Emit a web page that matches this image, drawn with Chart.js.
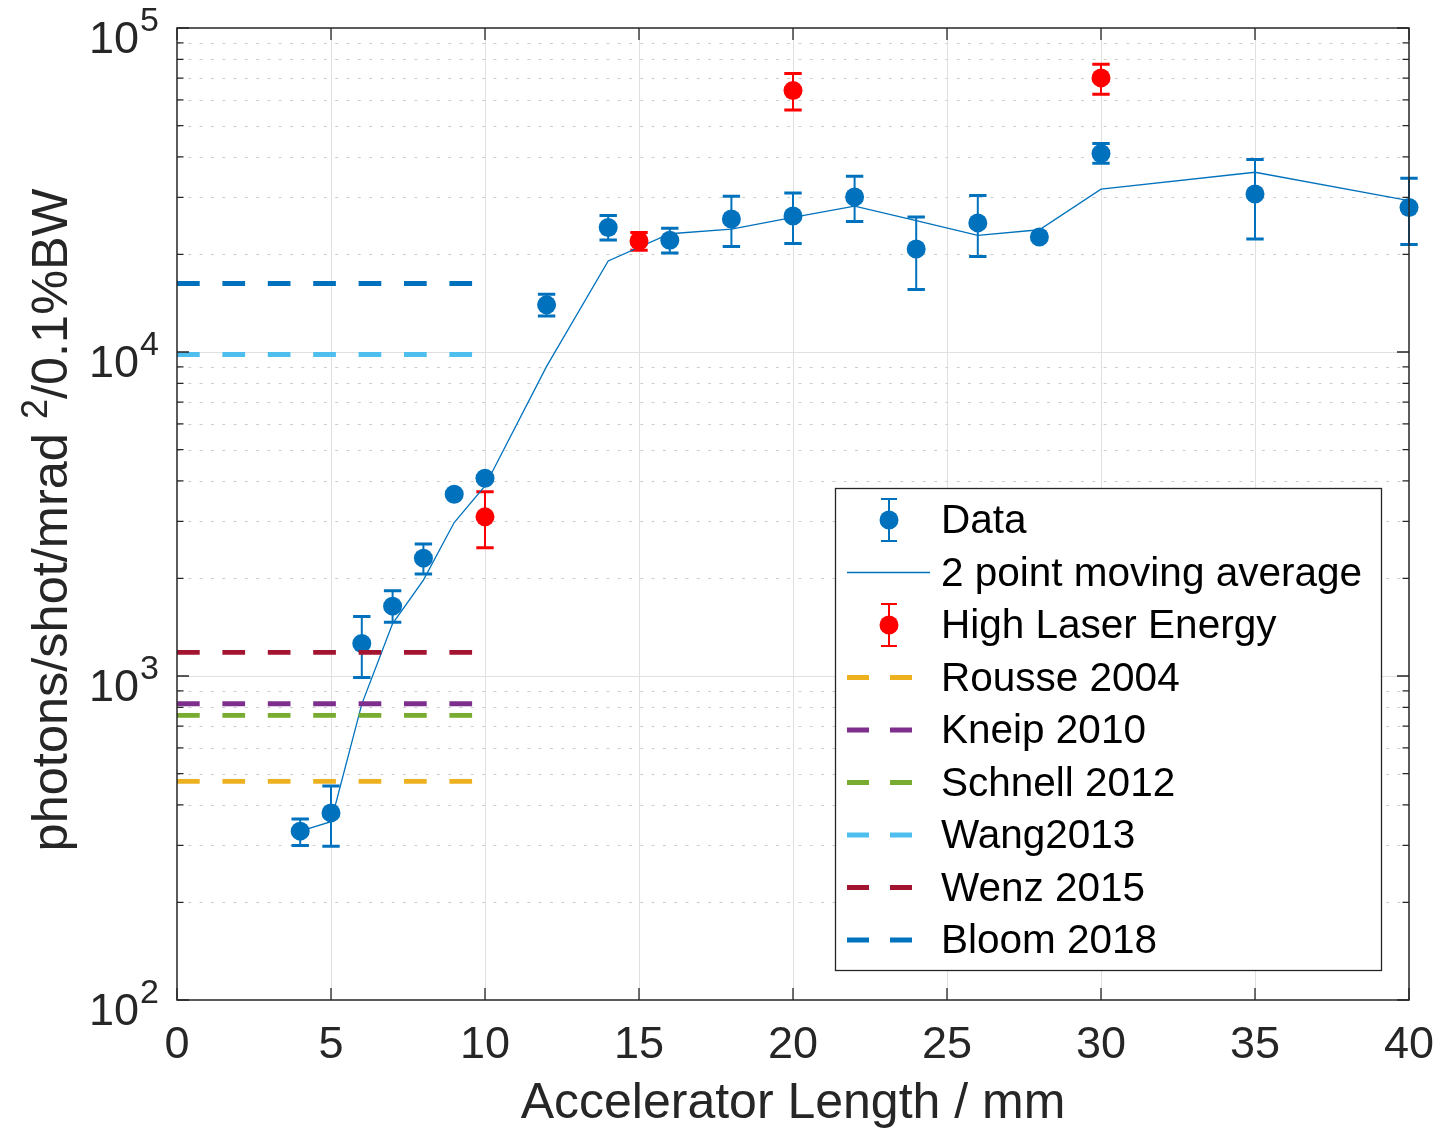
<!DOCTYPE html>
<html>
<head>
<meta charset="utf-8">
<title>Photon yield vs accelerator length</title>
<script src="https://cdn.jsdelivr.net/npm/chart.js@4.4.1/dist/chart.umd.min.js"></script>
<style>
  html, body { margin: 0; padding: 0; background: #fff; }
  #wrap { width: 1439px; height: 1131px; }
</style>
</head>
<body>
<div id="wrap"><canvas id="chart" width="1439" height="1131"></canvas></div>
<script>
const FONT = '"Liberation Sans", Arial, Helvetica, sans-serif';
const AXIS_COLOR = '#262626';
const BLUE = '#0072BD';
const RED = '#FF0000';

// measured series (photons/shot/mrad^2/0.1%BW)
const lengths = [4, 5, 6, 7, 8, 9, 10, 12, 14, 16, 18, 20, 22, 24, 26, 28, 30, 35, 40];
const yieldData = [332, 378, 1260, 1643, 2311, 3641, 4079, 13980, 24220, 22130, 25750, 26300, 30100, 20800, 25030, 22650, 40990, 30750, 27920];
const yieldLow = [300, 298, 990, 1464, 2063, null, null, 12925, 22180, 20220, 21160, 21610, 25280, 15590, 19710, null, 38230, 22340, 21460];
const yieldHigh = [362, 458, 1527, 1832, 2553, null, null, 15080, 26380, 24100, 30250, 30970, 34860, 26110, 30400, null, 43980, 39260, 34380];
const movingAvg = [332, 355, 819, 1452, 1977, 2976, 3860, 9030, 19100, 23175, 23940, 26025, 28200, 25450, 22915, 23840, 31820, 35870, 29335];

const highLengths = [10, 15, 20, 30];
const highData = [3099, 22020, 64120, 70140];
const highLow = [2486, 20610, 55850, 62440];
const highHigh = [3702, 23370, 72340, 77270];

// published results, drawn from 0 to 10 mm
const refNames = ['Rousse 2004', 'Kneip 2010', 'Schnell 2012', 'Wang2013', 'Wenz 2015', 'Bloom 2018'];
const refValues = [473, 821, 756, 9825, 1183, 16270];
const refColors = ['#EDB120', '#7E2F8E', '#77AC30', '#4DBEEE', '#A2142F', '#0072BD'];
const refRange = [0, 10];

const xTicks = [0, 5, 10, 15, 20, 25, 30, 35, 40];
const yMajorTicks = [1e2, 1e3, 1e4, 1e5];
const yMinorFactors = [2, 3, 4, 5, 6, 7, 8, 9];
const xTitle = 'Accelerator Length / mm';

function toPoints(xs, ys) {
    return xs.map((x, i) => ({ x: x, y: ys[i] }));
}

function drawErrorBars(ctx, chart, ds) {
    const x = chart.scales.x, y = chart.scales.y;
    ctx.strokeStyle = ds.borderColor;
    ds.data.forEach((p, i) => {
        const lo = ds.errLow[i], hi = ds.errHigh[i];
        if (lo == null || hi == null) return;
        const px = x.getPixelForValue(p.x);
        const pLo = y.getPixelForValue(lo), pHi = y.getPixelForValue(hi);
        ctx.lineWidth = 2;
        ctx.beginPath();
        ctx.moveTo(px, pLo); ctx.lineTo(px, pHi);
        ctx.stroke();
        ctx.lineWidth = 3;
        ctx.beginPath();
        ctx.moveTo(px - 8.7, pLo); ctx.lineTo(px + 8.7, pLo);
        ctx.moveTo(px - 8.7, pHi); ctx.lineTo(px + 8.7, pHi);
        ctx.stroke();
    });
}

const axesPlugin = {
    id: 'matlabAxes',
    beforeDatasetsDraw(chart) {
        const { ctx, chartArea: a, scales: { x, y } } = chart;
        ctx.save();
        // minor grid, dotted
        ctx.lineWidth = 1;
        ctx.strokeStyle = '#cdcdcd';
        ctx.setLineDash([3, 8.3]);
        yMajorTicks.slice(0, -1).forEach(d => {
            yMinorFactors.forEach(f => {
                const py = Math.round(y.getPixelForValue(d * f)) + 0.5;
                ctx.beginPath(); ctx.moveTo(a.left, py); ctx.lineTo(a.right, py); ctx.stroke();
            });
        });
        // major grid
        ctx.setLineDash([]);
        ctx.strokeStyle = '#e0e0e0';
        xTicks.slice(1, -1).forEach(v => {
            const px = Math.round(x.getPixelForValue(v)) + 0.5;
            ctx.beginPath(); ctx.moveTo(px, a.top); ctx.lineTo(px, a.bottom); ctx.stroke();
        });
        yMajorTicks.slice(1, -1).forEach(v => {
            const py = Math.round(y.getPixelForValue(v)) + 0.5;
            ctx.beginPath(); ctx.moveTo(a.left, py); ctx.lineTo(a.right, py); ctx.stroke();
        });
        // error bars go under the markers
        chart.data.datasets.forEach(ds => {
            if (ds.errLow) drawErrorBars(ctx, chart, ds);
        });
        ctx.restore();
    },
    afterDatasetsDraw(chart) {
        const { ctx, chartArea: a, scales: { x, y } } = chart;
        ctx.save();
        ctx.strokeStyle = AXIS_COLOR;
        ctx.lineWidth = 1.5;
        ctx.strokeRect(a.left, a.top, a.right - a.left, a.bottom - a.top);
        ctx.lineWidth = 1.3;
        ctx.beginPath();
        xTicks.forEach(v => {
            const px = x.getPixelForValue(v);
            ctx.moveTo(px, a.bottom); ctx.lineTo(px, a.bottom - 12);
            ctx.moveTo(px, a.top); ctx.lineTo(px, a.top + 12);
        });
        yMajorTicks.forEach((d, k) => {
            const py = y.getPixelForValue(d);
            ctx.moveTo(a.left, py); ctx.lineTo(a.left + 12, py);
            ctx.moveTo(a.right, py); ctx.lineTo(a.right - 12, py);
            if (k === yMajorTicks.length - 1) return;
            yMinorFactors.forEach(f => {
                const pm = y.getPixelForValue(d * f);
                ctx.moveTo(a.left, pm); ctx.lineTo(a.left + 6.5, pm);
                ctx.moveTo(a.right, pm); ctx.lineTo(a.right - 6.5, pm);
            });
        });
        ctx.stroke();

        ctx.fillStyle = AXIS_COLOR;
        // x tick labels and title
        ctx.font = '45px ' + FONT;
        ctx.textAlign = 'center';
        ctx.textBaseline = 'middle';
        xTicks.forEach(v => ctx.fillText(String(v), x.getPixelForValue(v), a.bottom + 46));
        ctx.font = '50px ' + FONT;
        ctx.fillText(xTitle, (a.left + a.right) / 2, a.bottom + 104);

        // y tick labels: 10^n
        ctx.textBaseline = 'alphabetic';
        yMajorTicks.forEach(d => {
            const py = y.getPixelForValue(d);
            ctx.font = '45px ' + FONT;
            ctx.textAlign = 'right';
            ctx.fillText('10', a.left - 38, py + 25);
            ctx.font = '34px ' + FONT;
            ctx.textAlign = 'left';
            ctx.fillText(String(Math.round(Math.log10(d))), a.left - 37, py + 3);
        });

        // y title with superscript
        const parts = [
            { t: 'photons/shot/mrad ', size: 50.5, rise: 0 },
            { t: '2', size: 36, rise: 20 },
            { t: '/0.1%BW', size: 50.5, rise: 0 }
        ];
        let total = 0;
        parts.forEach(p => { ctx.font = p.size + 'px ' + FONT; p.w = ctx.measureText(p.t).width; total += p.w; });
        ctx.translate(67, (a.top + a.bottom) / 2 + 6);
        ctx.rotate(-Math.PI / 2);
        ctx.textAlign = 'left';
        let cx = -total / 2;
        parts.forEach(p => {
            ctx.font = p.size + 'px ' + FONT;
            ctx.fillText(p.t, cx, -p.rise);
            cx += p.w;
        });
        ctx.restore();
    },
    afterDraw(chart) {
        const ctx = chart.ctx;
        const box = { left: 835, top: 488, right: 1381, bottom: 970 };
        const rowH = 52.5, firstRow = 520, symX = 889, textX = 941;
        ctx.save();
        ctx.fillStyle = '#ffffff';
        ctx.fillRect(box.left, box.top, box.right - box.left, box.bottom - box.top);
        ctx.strokeStyle = AXIS_COLOR;
        ctx.lineWidth = 1.3;
        ctx.strokeRect(box.left + 0.5, box.top + 0.5, box.right - box.left, box.bottom - box.top);
        chart.data.datasets.forEach((ds, i) => {
            const cy = firstRow + i * rowH;
            const color = ds.borderColor;
            ctx.strokeStyle = color;
            ctx.fillStyle = color;
            if (ds.legendKind === 'errorbar') {
                ctx.lineWidth = 2;
                ctx.beginPath();
                ctx.moveTo(symX, cy - 21); ctx.lineTo(symX, cy + 21);
                ctx.moveTo(symX - 8, cy - 21); ctx.lineTo(symX + 8, cy - 21);
                ctx.moveTo(symX - 8, cy + 21); ctx.lineTo(symX + 8, cy + 21);
                ctx.stroke();
                ctx.beginPath();
                ctx.arc(symX, cy, 9.5, 0, Math.PI * 2);
                ctx.fill();
            } else if (ds.legendKind === 'line') {
                ctx.lineWidth = 1.3;
                ctx.beginPath();
                ctx.moveTo(847, cy); ctx.lineTo(930, cy);
                ctx.stroke();
            } else {
                ctx.lineWidth = 4.8;
                ctx.beginPath();
                ctx.moveTo(847, cy); ctx.lineTo(869, cy);
                ctx.moveTo(890, cy); ctx.lineTo(912, cy);
                ctx.stroke();
            }
            ctx.fillStyle = '#000000';
            ctx.font = '40.5px ' + FONT;
            ctx.textAlign = 'left';
            ctx.textBaseline = 'middle';
            ctx.fillText(ds.label, textX, cy + 2);
        });
        ctx.restore();
    }
};

const datasets = [
    {
        label: 'Data', data: toPoints(lengths, yieldData), showLine: false,
        pointRadius: 9.5, pointHoverRadius: 9.5, pointBorderWidth: 0,
        pointBackgroundColor: BLUE, borderColor: BLUE, backgroundColor: BLUE,
        errLow: yieldLow, errHigh: yieldHigh, legendKind: 'errorbar', order: 3, clip: false
    },
    {
        label: '2 point moving average', data: toPoints(lengths, movingAvg),
        borderColor: BLUE, borderWidth: 1.3, pointRadius: 0, tension: 0, fill: false,
        legendKind: 'line', order: 2
    },
    {
        label: 'High Laser Energy', data: toPoints(highLengths, highData), showLine: false,
        pointRadius: 9.5, pointHoverRadius: 9.5, pointBorderWidth: 0,
        pointBackgroundColor: RED, borderColor: RED, backgroundColor: RED,
        errLow: highLow, errHigh: highHigh, legendKind: 'errorbar', order: 1, clip: false
    }
];
refNames.forEach((name, i) => {
    datasets.push({
        label: name,
        data: toPoints(refRange, [refValues[i], refValues[i]]),
        borderColor: refColors[i], borderWidth: 4.8, borderDash: [22.7, 22.7],
        borderCapStyle: 'butt', pointRadius: 0, fill: false,
        legendKind: 'dashed', order: 0
    });
});

new Chart(document.getElementById('chart'), {
    type: 'line',
    data: { datasets: datasets },
    options: {
        responsive: false,
        animation: false,
        devicePixelRatio: 1,
        layout: { padding: { left: 177, top: 28, right: 30, bottom: 131 } },
        plugins: {
            legend: { display: false },
            tooltip: { enabled: false }
        },
        scales: {
            x: { type: 'linear', min: 0, max: 40, display: false },
            y: { type: 'logarithmic', min: 100, max: 100000, display: false }
        }
    },
    plugins: [axesPlugin]
});
</script>
</body>
</html>
